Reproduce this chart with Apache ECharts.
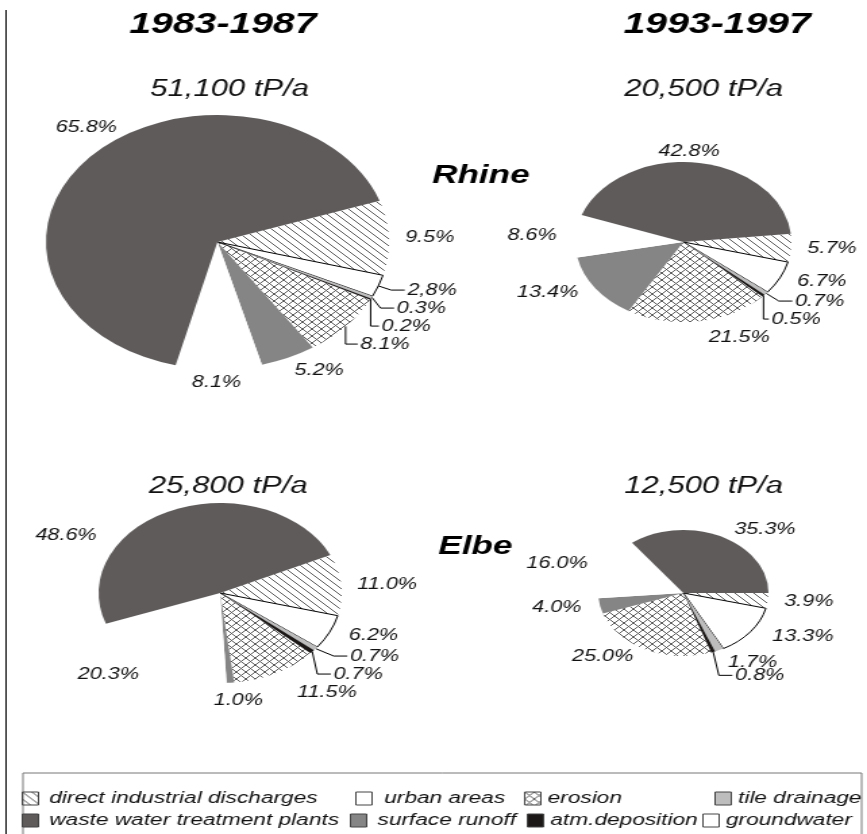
<!DOCTYPE html>
<html>
<head>
<meta charset="utf-8">
<title>Phosphorus inputs Rhine / Elbe</title>
<script src="https://cdn.jsdelivr.net/npm/echarts@6/dist/echarts.min.js"></script>
<style>
  html, body { margin: 0; padding: 0; background: #fff; overflow: hidden; }
  /* the original figure is stretched horizontally, so the chart is drawn narrow and widened */
  #main { width: 642px; height: 834px; transform: scaleX(1.3505); transform-origin: 0 0; }
</style>
</head>
<body>
<div id="main"></div>
<script>
// sources, in the order the slices run clockwise
var sources = ['direct industrial discharges', 'urban areas', 'tile drainage', 'atm.deposition',
               'erosion', 'surface runoff', 'groundwater', 'waste water treatment plants'];

// shares in %
var rhine8387 = [9.5, 2.8, 0.3, 0.2, 8.1, 5.2, 8.1, 65.8];
var rhine9397 = [5.7, 6.7, 0.7, 0.5, 21.5, 13.4, 8.6, 42.8];
var elbe8387  = [11.0, 6.2, 0.7, 0.7, 11.5, 1.0, 20.3, 48.6];
var elbe9397  = [3.9, 13.3, 1.7, 0.8, 25.0, 4.0, 16.0, 35.3];

var periods = ['1983-1987', '1993-1997'];
var rivers = ['Rhine', 'Elbe'];
var totals = ['51,100 tP/a', '20,500 tP/a', '25,800 tP/a', '12,500 tP/a'];

var FONT = '"Liberation Sans", Arial, sans-serif';

// hatch fills
function hatch(cross) {
	var c = document.createElement('canvas');
	var p = 7;
	c.width = p; c.height = p;
	var ctx = c.getContext('2d');
	ctx.strokeStyle = '#4a4a4a';
	ctx.lineWidth = 0.9;
	ctx.beginPath();
	for (var k = -1; k <= 1; k++) {
		ctx.moveTo(k * p, 0); ctx.lineTo(k * p + p, p);
		if (cross) { ctx.moveTo(k * p, p); ctx.lineTo(k * p + p, 0); }
	}
	ctx.stroke();
	return { image: c, repeat: 'repeat' };
}

var styles = {
	'direct industrial discharges': { color: hatch(false) },
	'urban areas': { color: '#ffffff', borderColor: '#000', borderWidth: 1 },
	'tile drainage': { color: '#bdbdbd' },
	'atm.deposition': { color: '#1c1818' },
	'erosion': { color: hatch(true) },
	'surface runoff': { color: '#858585' },
	'groundwater': { color: '#ffffff' },
	'waste water treatment plants': { color: '#5f5b5b' }
};

// small nudges for a few labels: [series][dataIndex] = [dx, dy]
var nudges = [
	{ 5: [-13, 6], 6: [-26, 0], 7: [31, -23] },
	{ 7: [-35, -3] },
	{ 5: [-19, -10], 7: [-48, 33] },
	{ 2: [-20, 5] }
];

function pieSeries(values, center, radius, startAngle, lined, texts) {
	return {
		type: 'pie',
		left: 0, top: 0, width: 1000, height: 834,
		center: center,
		radius: radius,
		startAngle: startAngle,
		clockwise: true,
		animation: false,
		avoidLabelOverlap: true,
		itemStyle: { borderWidth: 0 },
		emphasis: { disabled: true },
		label: {
			show: true,
			position: 'outside',
			color: '#111',
			fontFamily: FONT,
			fontStyle: 'italic',
			fontSize: 16,
			distanceToLabelLine: 2,
			formatter: function (p) {
				return (texts && texts[p.dataIndex]) || (p.value.toFixed(1) + '%');
			}
		},
		labelLine: { show: false, length: 8, length2: 4, lineStyle: { color: '#000', width: 1 } },
		labelLayout: function (params) {
			var n = nudges[params.seriesIndex][params.dataIndex];
			return n ? { dx: n[0], dy: n[1] } : {};
		},
		data: values.map(function (v, i) {
			var s = sources[i];
			var showLine = lined.indexOf(s) >= 0;
			return {
				name: s,
				value: v,
				itemStyle: styles[s],
				labelLine: { show: showLine, length: showLine ? 12 : 8, length2: showLine ? 10 : 4 }
			};
		})
	};
}

// legend cells: name, left, top, gap before text
var legendCells = [
	[sources[0], 16, 790, 3], [sources[1], 263, 790, 4], [sources[4], 388, 790, 0], [sources[2], 529, 790, 0],
	[sources[7], 16, 812, 3], [sources[5], 259, 812, 3], [sources[3], 390, 812, 0], [sources[6], 520, 812, 0]
];

function titleText(text, x, y, size, bold) {
	return {
		text: text, left: x, top: y, textAlign: 'center',
		textStyle: { fontFamily: FONT, fontSize: size, fontWeight: bold ? 'bold' : 'normal', fontStyle: 'italic', color: bold ? '#000' : '#111' }
	};
}

var myChart = echarts.init(document.getElementById('main'), null, { renderer: 'canvas', devicePixelRatio: 1 });

var option = {
	backgroundColor: '#fff',
	title: [
		titleText(periods[0], 160, 5, 29, true),
		titleText(periods[1], 526, 5, 29, true),
		titleText(totals[0], 165, 73, 23, false),
		titleText(totals[1], 516, 73, 23, false),
		titleText(totals[2], 164, 470, 23, false),
		titleText(totals[3], 516, 470, 23, false),
		titleText(rivers[0], 351, 158, 26, true),
		titleText(rivers[1], 347, 529, 26, true)
	],
	legend: legendCells.map(function (c) {
		return {
			data: [c[0]],
			left: c[1],
			top: c[2],
			orient: 'horizontal',
			itemWidth: 12,
			itemHeight: 13,
			selectedMode: false,
			icon: 'rect',
			padding: 0,
			itemStyle: { borderColor: '#444', borderWidth: 1 },
			textStyle: { fontFamily: FONT, fontStyle: 'italic', fontSize: 16.8, color: '#111', padding: [0, 0, 0, c[3]] }
		};
	}),
	graphic: [
		{ type: 'line', shape: { x1: 4.5, y1: 10, x2: 4.5, y2: 834 }, style: { stroke: '#000', lineWidth: 1 } },
		{ type: 'rect', shape: { x: 17, y: 773, width: 621, height: 70 }, style: { fill: 'none', stroke: '#777', lineWidth: 1 } }
	],
	series: [
		pieSeries(rhine8387, [161, 242], 127, 19, ['urban areas', 'tile drainage', 'atm.deposition', 'erosion'], [null, '2,8%']),
		pieSeries(rhine9397, [506, 242], 80, 6, ['tile drainage', 'atm.deposition']),
		pieSeries(elbe8387, [163, 593], 90, 25, ['tile drainage', 'atm.deposition']),
		pieSeries(elbe9397, [506, 593], 63, 0, ['atm.deposition'])
	]
};
myChart.setOption(option);
</script>
</body>
</html>
